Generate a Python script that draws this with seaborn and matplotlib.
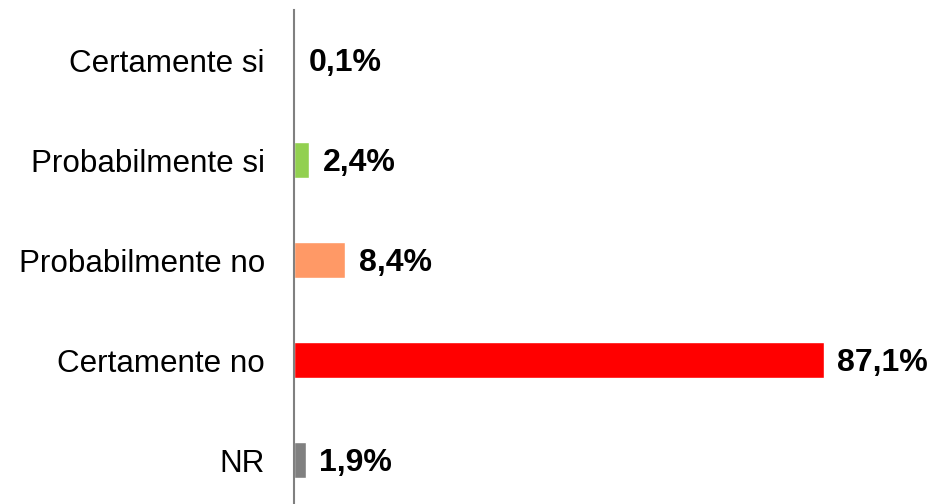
import matplotlib
matplotlib.use("Agg")
import matplotlib.pyplot as plt
import seaborn as sns
import pandas as pd

categories = ["Certamente si", "Probabilmente si", "Probabilmente no", "Certamente no", "NR"]
values = [0.1, 2.4, 8.4, 87.1, 1.9]
labels = ["0,1%", "2,4%", "8,4%", "87,1%", "1,9%"]
colors = ["#00B050", "#92D050", "#FF9966", "#FF0000", "#808080"]

sns.set_theme(style="white")
plt.rcParams['font.family'] = ['Liberation Sans', 'DejaVu Sans']

df = pd.DataFrame({"cat": categories, "val": values})

fig = plt.figure(figsize=(9.3, 5.04), dpi=100)
W, H = 930, 504
left_px, top_px = 294, 10
ax = fig.add_axes([left_px / W, 0, 1 - left_px / W, 1 - top_px / H])

sns.barplot(data=df, y="cat", x="val", hue="cat", palette=colors, order=categories,
            hue_order=categories, orient="h", width=0.36, legend=False,
            saturation=1, ax=ax)

scale = 6.08
ax.set_xlim(0, (W - left_px) / scale)
ax.set_ylim(4.44, -0.5)

for i, (v, lab) in enumerate(zip(values, labels)):
    ax.annotate(lab, xy=(v, i), xytext=(10, -2), textcoords="offset points",
                ha="left", va="center", fontsize=23, fontweight="bold", color="black")

ax.set_xlabel("")
ax.set_ylabel("")
ax.set_xticks([])
for s in ["top", "right", "bottom"]:
    ax.spines[s].set_visible(False)
ax.spines["left"].set_color("#808080")
ax.spines["left"].set_linewidth(1.5)
ax.tick_params(axis="y", length=0, pad=21, labelsize=22.6, colors="black")

fig.savefig("out.png", dpi=100)
